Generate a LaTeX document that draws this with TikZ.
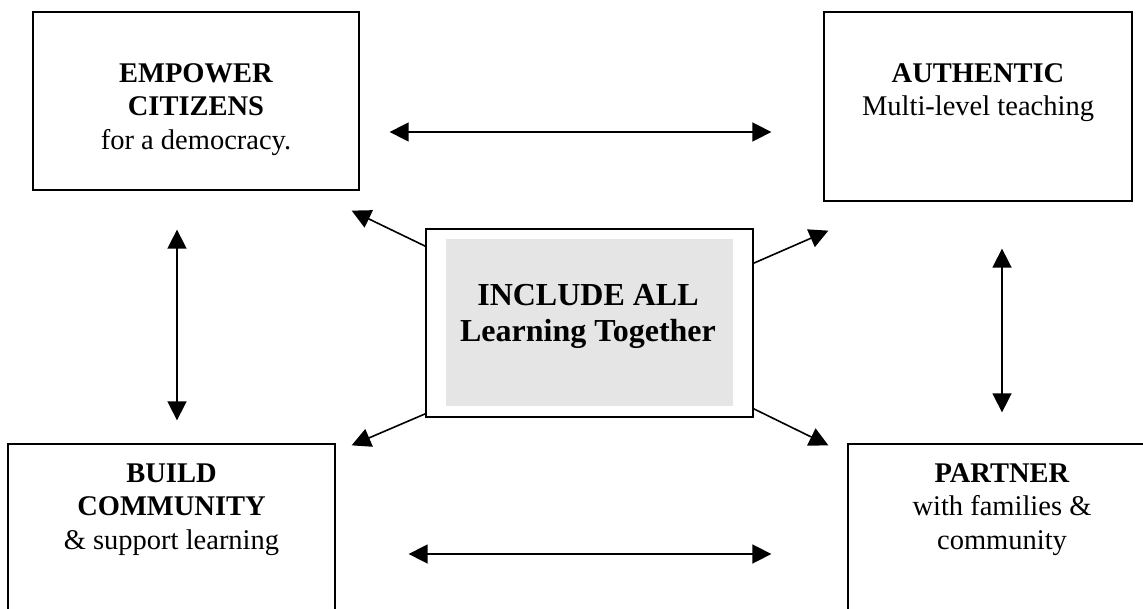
\documentclass[tikz,border=0pt]{standalone}
\usepackage{fontspec}
\setmainfont{Liberation Serif}
\usetikzlibrary{arrows.meta,calc}
\begin{document}
\begin{tikzpicture}[x=1pt,y=-1pt,
outbox/.style={draw,rectangle,line width=1.3pt,inner sep=0pt},
corebox/.style={draw,rectangle,line width=1.8pt,inner sep=0pt,minimum width=327pt,minimum height=188pt},
coreshade/.style={fill=gray!20,rectangle,inner sep=0pt,minimum width=287pt,minimum height=167pt},
boxtext/.style={align=center,inner sep=0pt,anchor=north,font=\fontsize{28.5}{33.5}\selectfont},
coretext/.style={align=center,inner sep=0pt,anchor=north,font=\fontsize{32}{36}\selectfont\bfseries},
link/.style={line width=1.6pt,{Triangle[length=19pt,width=19pt]}-{Triangle[length=19pt,width=19pt]}},
spoke/.style={line width=1.6pt,-{Triangle[length=19pt,width=19pt]}}]

\useasboundingbox (0,0) rectangle (1143,609);
\clip (0,0) rectangle (1143,609);

\draw (196,101) node[outbox,minimum width=326pt,minimum height=178pt] (emp) {};
\draw (978,106.5) node[outbox,minimum width=308pt,minimum height=189pt] (auth) {};
\draw (171.5,544) node[outbox,minimum width=327pt,minimum height=200pt] (build) {};
\draw (1002,544) node[outbox,minimum width=308pt,minimum height=200pt] (partner) {};
\draw (589.5,323) node[corebox] (incl) {};
\draw (589.5,322.5) node[coreshade] (inclbg) {};

\draw (emp.north) ++(0,52) node[boxtext] (empt) {\textbf{EMPOWER}\\\textbf{CITIZENS}\\for a democracy.};
\draw (auth.north) ++(0,52) node[boxtext] (autht) {\textbf{AUTHENTIC}\\Multi-level teaching};
\draw (build.north) ++(0,20) node[boxtext] (buildt) {\textbf{BUILD}\\\textbf{COMMUNITY}\\\& support learning};
\draw (partner.north) ++(0,20) node[boxtext] (partnert) {\textbf{PARTNER}\\with families \&\\community};
\draw (incl.north) ++(-1.5,56) node[coretext] (inclt) {INCLUDE ALL\\Learning Together};

\coordinate (toprow) at (0,132);
\coordinate (botrow) at (0,554);
\coordinate (leftcol) at (177,0);
\coordinate (rightcol) at (1002,0);

\draw[link,shorten <=30pt,shorten >=52pt] (emp.east |- toprow) -- (auth.west |- toprow);
\draw[link,shorten <=73pt,shorten >=76pt] (build.east |- botrow) -- (partner.west |- botrow);
\draw[link,shorten <=39pt,shorten >=23pt] (emp.south -| leftcol) -- (build.north -| leftcol);
\draw[link,shorten <=47pt,shorten >=31pt] (auth.south -| rightcol) -- (partner.north -| rightcol);

\draw[spoke] ($(incl.north west)+(0,18)$) -- ($(emp.south east)+(-8,20)$);
\draw[spoke] ($(incl.north east)+(0,35)$) -- ($(auth.south west)+(5,29)$);
\draw[spoke] ($(incl.south west)+(0,-4)$) -- ($(build.north east)+(16,2)$);
\draw[spoke] ($(incl.south east)+(0,-9)$) -- ($(partner.north west)+(-19,2)$);
\end{tikzpicture}
\end{document}
